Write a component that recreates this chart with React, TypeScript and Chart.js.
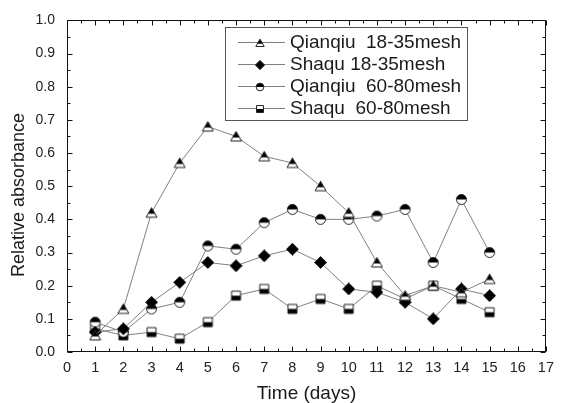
import React, { useEffect, useRef } from "react";
import { Chart, registerables } from "chart.js";

Chart.register(...registerables);

const days = [1, 2, 3, 4, 5, 6, 7, 8, 9, 10, 11, 12, 13, 14, 15];
const qianqiu1835 = [0.05, 0.13, 0.42, 0.57, 0.68, 0.65, 0.59, 0.57, 0.5, 0.42, 0.27, 0.17, 0.2, 0.18, 0.22];
const shaqu1835 = [0.06, 0.07, 0.15, 0.21, 0.27, 0.26, 0.29, 0.31, 0.27, 0.19, 0.18, 0.15, 0.1, 0.19, 0.17];
const qianqiu6080 = [0.09, 0.06, 0.13, 0.15, 0.32, 0.31, 0.39, 0.43, 0.4, 0.4, 0.41, 0.43, 0.27, 0.46, 0.3];
const shaqu6080 = [0.07, 0.05, 0.06, 0.04, 0.09, 0.17, 0.19, 0.13, 0.16, 0.13, 0.2, 0.16, 0.2, 0.16, 0.12];
const seriesLabels = ["Qianqiu  18-35mesh", "Shaqu 18-35mesh", "Qianqiu  60-80mesh", "Shaqu  60-80mesh"];
const xTitle = "Time (days)";
const yTitle = "Relative absorbance";

const FONT = "'Liberation Sans', Arial, sans-serif";

function makeMarker(kind: string, scale: number): HTMLCanvasElement {
  const s = 13;
  const c = document.createElement("canvas");
  const size = Math.round(s * scale);
  c.width = size;
  c.height = size;
  const ctx = c.getContext("2d")!;
  ctx.scale(scale, scale);
  const path = () => {
    ctx.beginPath();
    if (kind === "triangle") {
      ctx.moveTo(6.5, 1.5);
      ctx.lineTo(12, 11);
      ctx.lineTo(1, 11);
      ctx.closePath();
    } else if (kind === "diamond") {
      ctx.moveTo(6.5, 0.5);
      ctx.lineTo(12.5, 6.5);
      ctx.lineTo(6.5, 12.5);
      ctx.lineTo(0.5, 6.5);
      ctx.closePath();
    } else if (kind === "circle") {
      ctx.arc(6.5, 6.5, 5, 0, Math.PI * 2);
    } else {
      ctx.rect(2, 2, 9, 9);
    }
  };
  path();
  ctx.fillStyle = "#fff";
  ctx.fill();
  ctx.save();
  path();
  ctx.clip();
  ctx.fillStyle = "#000";
  if (kind === "triangle") ctx.fillRect(0, 0, s, 7.5);
  else if (kind === "diamond") ctx.fillRect(0, 0, s, s);
  else if (kind === "circle") ctx.fillRect(0, 0, s, 6.5);
  else ctx.fillRect(0, 6.5, s, s);
  ctx.restore();
  path();
  ctx.strokeStyle = "#222";
  ctx.lineWidth = 1 / scale;
  ctx.stroke();
  return c;
}

export default function App() {
  const ref = useRef<HTMLCanvasElement | null>(null);

  useEffect(() => {
    const kinds = ["triangle", "diamond", "circle", "square"];
    const markers = kinds.map((k) => makeMarker(k, 1));
    const legendMarkers = kinds.map((k) => makeMarker(k, 0.77));
    const values = [qianqiu1835, shaqu1835, qianqiu6080, shaqu6080];

    const framePlugin = {
      id: "frameTicks",
      afterDraw(chart: any) {
        const { ctx, chartArea } = chart;
        const xs = chart.scales.x;
        const ys = chart.scales.y;
        ctx.save();
        ctx.strokeStyle = "#111";
        ctx.lineWidth = 1;
        const L = Math.round(chartArea.left) + 0.5;
        const R = Math.round(chartArea.right) - 0.5;
        const T = Math.round(chartArea.top) + 0.5;
        const B = Math.round(chartArea.bottom) - 0.5;
        ctx.strokeRect(L, T, R - L, B - T);
        ctx.beginPath();
        for (let i = 0; i <= 34; i++) {
          const v = i / 2;
          const x = Math.round(xs.getPixelForValue(v)) + 0.5;
          const len = i % 2 === 0 ? 5 : 3;
          ctx.moveTo(x, B);
          ctx.lineTo(x, B - len);
          ctx.moveTo(x, T);
          ctx.lineTo(x, T + len);
        }
        for (let i = 0; i <= 20; i++) {
          const v = i / 20;
          const y = Math.round(ys.getPixelForValue(v)) + 0.5;
          const len = i % 2 === 0 ? 5 : 3;
          ctx.moveTo(L, y);
          ctx.lineTo(L + len, y);
          ctx.moveTo(R, y);
          ctx.lineTo(R - len, y);
        }
        ctx.stroke();

        // y-axis title
        ctx.save();
        ctx.translate(19, 195);
        ctx.rotate(-Math.PI / 2);
        ctx.font = `18px ${FONT}`;
        ctx.fillStyle = "#1a1a1a";
        ctx.textAlign = "center";
        ctx.textBaseline = "middle";
        ctx.fillText(yTitle, 0, 0);
        ctx.restore();

        // legend
        const bx = 225.5, by = 27.5, bw = 242, bh = 93;
        ctx.fillStyle = "#fff";
        ctx.fillRect(bx, by, bw, bh);
        ctx.strokeStyle = "#555";
        ctx.strokeRect(bx, by, bw, bh);
        ctx.font = `19px ${FONT}`;
        ctx.textBaseline = "middle";
        ctx.textAlign = "left";
        chart.data.datasets.forEach((ds: any, i: number) => {
          const yy = 42.5 + i * 22;
          ctx.strokeStyle = "#808080";
          ctx.beginPath();
          ctx.moveTo(238, yy);
          ctx.lineTo(285, yy);
          ctx.stroke();
          const m = legendMarkers[i];
          ctx.drawImage(m, Math.round(260 - m.width / 2), Math.round(yy - m.height / 2));
          ctx.fillStyle = "#1a1a1a";
          ctx.fillText(ds.label, 290, yy);
        });
        ctx.restore();
      },
    };

    const chart = new Chart(ref.current!, {
      type: "line",
      data: {
        datasets: values.map((vals, i) => ({
          label: seriesLabels[i],
          data: days.map((d, j) => ({ x: d, y: vals[j] })),
          borderColor: "#808080",
          borderWidth: 1,
          pointStyle: markers[i] as any,
          pointRadius: 5,
          tension: 0,
          fill: false,
        })),
      },
      options: {
        responsive: false,
        animation: false,
        layout: { padding: { left: 0, right: 7, top: 16, bottom: 0 } },
        plugins: { legend: { display: false }, tooltip: { enabled: false } },
        scales: {
          x: {
            type: "linear",
            min: 0,
            max: 17,
            afterFit: (s: any) => {
              s.height = 51;
            },
            grid: { display: false, drawTicks: false },
            border: { display: false },
            ticks: {
              stepSize: 1,
              padding: 7,
              color: "#222",
              font: { family: FONT, size: 14.5 },
              maxRotation: 0,
              autoSkip: false,
            },
            title: {
              display: true,
              text: xTitle,
              color: "#1a1a1a",
              font: { family: FONT, size: 19, lineHeight: 1 },
              padding: { top: 0, bottom: 0 },
            },
          },
          y: {
            type: "linear",
            min: 0,
            max: 1,
            afterFit: (s: any) => {
              s.width = 67;
            },
            grid: { display: false, drawTicks: false },
            border: { display: false },
            ticks: {
              stepSize: 0.1,
              padding: 12,
              color: "#222",
              font: { family: FONT, size: 14 },
              callback: (v: any) => Number(v).toFixed(1),
            },
          },
        },
      },
      plugins: [framePlugin],
    });
    return () => chart.destroy();
  }, []);

  return (
    <div style={{ position: "fixed", left: 0, top: 0, width: 561, height: 403, background: "#fff" }}>
      <canvas ref={ref} width={561} height={403} style={{ display: "block" }} />
    </div>
  );
}
